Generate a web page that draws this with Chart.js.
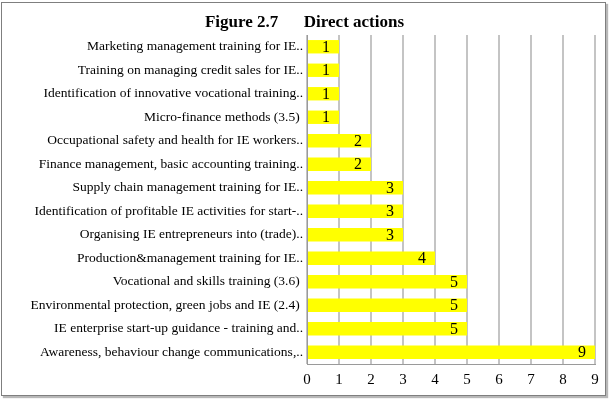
<!DOCTYPE html>
<html>
<head>
<meta charset="utf-8">
<script src="https://cdn.jsdelivr.net/npm/chart.js@4/dist/chart.umd.min.js"></script>
<style>
  html, body { margin: 0; padding: 0; background: #ffffff; }
  #frame { position: absolute; left: 1px; top: 2px; width: 603px; height: 392px;
           border: 1px solid #7f7f7f; box-shadow: 2px 2px 1px #b8b8b8; background: #fff; }
  #c { position: absolute; left: 0; top: 0; }
</style>
</head>
<body>
<div id="frame"></div>
<canvas id="c" width="609" height="399"></canvas>
<script>
const titleText = "Figure 2.7      Direct actions";
const categories = [
  "Marketing management training for IE..",
  "Training on managing credit sales for IE..",
  "Identification of innovative vocational training..",
  "Micro-finance methods (3.5) ",
  "Occupational safety and health for IE workers..",
  "Finance management, basic accounting training..",
  "Supply chain management training for IE..",
  "Identification of profitable IE activities for start-..",
  "Organising IE entrepreneurs into (trade)..",
  "Production&management training for IE..",
  "Vocational and skills training (3.6) ",
  "Environmental protection, green jobs and IE (2.4) ",
  "IE enterprise start-up guidance - training and..",
  "Awareness, behaviour change communications,.."
];
const values = [1, 1, 1, 1, 2, 2, 3, 3, 3, 4, 5, 5, 5, 9];
const xTicks = [0, 1, 2, 3, 4, 5, 6, 7, 8, 9];

const FONT = "'Liberation Serif', 'Times New Roman', serif";

const titlePlugin = {
  id: 'figTitle',
  afterDraw(chart) {
    const ctx = chart.ctx;
    ctx.save();
    ctx.font = "bold 17px " + FONT;
    ctx.fillStyle = "#000";
    ctx.textAlign = "center";
    ctx.textBaseline = "alphabetic";
    ctx.fillText(titleText, 304.5, 27);
    ctx.restore();
  }
};

const labelPlugin = {
  id: 'barLabels',
  afterDatasetsDraw(chart) {
    const ctx = chart.ctx;
    const meta = chart.getDatasetMeta(0);
    ctx.save();
    ctx.font = "16px " + FONT;
    ctx.fillStyle = "#000";
    ctx.textAlign = "center";
    ctx.textBaseline = "middle";
    meta.data.forEach((bar, i) => {
      ctx.fillText(String(values[i]), bar.x - 13, bar.y + 1);
    });
    ctx.restore();
  }
};

new Chart(document.getElementById('c'), {
  type: 'bar',
  data: {
    labels: categories,
    datasets: [{
      data: values,
      backgroundColor: '#ffff00',
      borderWidth: 0,
      categoryPercentage: 1.0,
      barPercentage: 0.57
    }]
  },
  options: {
    indexAxis: 'y',
    responsive: false,
    animation: false,
    devicePixelRatio: 1,
    layout: { padding: { top: 35, right: 14, left: 0, bottom: 0 } },
    plugins: { legend: { display: false }, tooltip: { enabled: false }, title: { display: false } },
    scales: {
      x: {
        min: 0, max: 9,
        afterFit(scale) { scale.height = 35; },
        afterBuildTicks(scale) { scale.ticks = xTicks.map(v => ({ value: v })); },
        ticks: { color: '#000', font: { family: FONT, size: 15 }, padding: 7 },
        grid: { color: '#c4c4c4', lineWidth: 2, drawTicks: false },
        border: { color: '#9a9a9a', width: 1 }
      },
      y: {
        afterFit(scale) { scale.width = 307; },
        ticks: { color: '#000', font: { family: FONT, size: 13.5 }, padding: 4, autoSkip: false },
        grid: { display: false, drawTicks: false },
        border: { color: '#9a9a9a', width: 1 }
      }
    }
  },
  plugins: [titlePlugin, labelPlugin]
});
</script>
</body>
</html>
